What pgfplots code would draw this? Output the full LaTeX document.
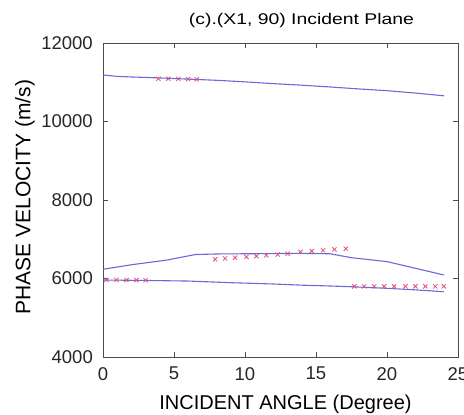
\documentclass[border=0pt]{standalone}
\usepackage{pgfplots}
\pgfplotsset{compat=1.18}
\usepackage{graphicx}
\usepackage{fontspec}
\setmainfont{Liberation Sans}
\definecolor{curveblue}{RGB}{105,105,220}
\definecolor{markred}{RGB}{225,80,115}

\begin{document}
\begin{tikzpicture}
\useasboundingbox (-103pt,-58pt) rectangle (361pt,357pt);
\begin{axis}[
  at={(0,0)}, anchor=south west,
  scale only axis,
  width=355pt, height=314pt,
  xmin=0, xmax=25, ymin=4000, ymax=12000,
  xtick={0,5,10,15,20,25},
  ytick={4000,6000,8000,10000,12000},
  tick align=inside,
  major tick length=5pt,
  axis line style={black!70, line width=0.8pt},
  tick style={black!70, line width=0.6pt},
  /pgf/number format/assume math mode=true,
  /pgf/number format/set thousands separator={},
  scaled y ticks=false,
  ticklabel style={font=\fontsize{18.5}{20}\selectfont, text=black!85},
  yticklabel style={inner sep=0pt, anchor=east, xshift=-10pt},
  xticklabel style={inner sep=0pt, anchor=north, yshift=-10pt},
  title={\scalebox{1.25}[1]{(c).(X1, 90) Incident Plane}},
  title style={font=\fontsize{15.5}{17}\selectfont, at={(axis description cs:0.5,1)},
    anchor=base, yshift=13pt, xshift=21pt, inner sep=0pt},
  xlabel={INCIDENT ANGLE (Degree)},
  xlabel style={font=\fontsize{20}{22}\selectfont, at={(axis description cs:0.5,0)},
    anchor=base, yshift=-53pt, xshift=5pt, inner sep=0pt},
  ylabel={PHASE VELOCITY (m/s)},
  ylabel style={font=\fontsize{21}{23}\selectfont, at={(axis description cs:0,0.5)},
    anchor=center, yshift=78pt, xshift=3pt, inner sep=0pt},
]
% upper branch
\addplot[curveblue, line width=1.1pt] coordinates {
  (0,11185) (1,11150) (2,11135) (4,11110) (6,11080) (8,11050) (10,11010)
  (12,10965) (14,10925) (16,10880) (18,10830) (20,10785) (22,10725) (24,10655)
};
% middle branch
\addplot[curveblue, line width=1.1pt] coordinates {
  (0,6235) (2,6350) (4.5,6470) (6.5,6610) (8,6625) (10,6630) (12,6635)
  (14,6640) (16,6630) (17.5,6530) (20,6430) (22,6260) (24,6090)
};
% lower branch
\addplot[curveblue, line width=1.1pt] coordinates {
  (0,5962) (3,5950) (6,5935) (9,5893) (12,5860) (14,5830) (16,5809)
  (17.5,5790) (20,5750) (22,5710) (24,5664)
};
% measured points
\addplot[only marks, mark=x, mark size=3pt, markred, line width=0.8pt] coordinates {
  (3.9,11090) (4.6,11090) (5.3,11085) (6.0,11080) (6.6,11075)
};
\addplot[only marks, mark=x, mark size=3pt, markred, line width=0.8pt] coordinates {
  (7.9,6490) (8.6,6510) (9.3,6530) (10.1,6550) (10.8,6570) (11.5,6590)
  (12.3,6610) (13.0,6630) (13.9,6680) (14.7,6700) (15.5,6720) (16.3,6740) (17.1,6760)
};
\addplot[only marks, mark=x, mark size=3pt, markred, line width=0.8pt] coordinates {
  (0.25,5965) (0.95,5965) (1.65,5960) (2.35,5960) (3.0,5955)
};
\addplot[only marks, mark=x, mark size=3pt, markred, line width=0.8pt] coordinates {
  (17.7,5800) (18.4,5800) (19.1,5800) (19.8,5800) (20.5,5800)
  (21.3,5800) (22.0,5800) (22.7,5800) (23.4,5800) (24.0,5800)
};
\end{axis}
\end{tikzpicture}
\end{document}
